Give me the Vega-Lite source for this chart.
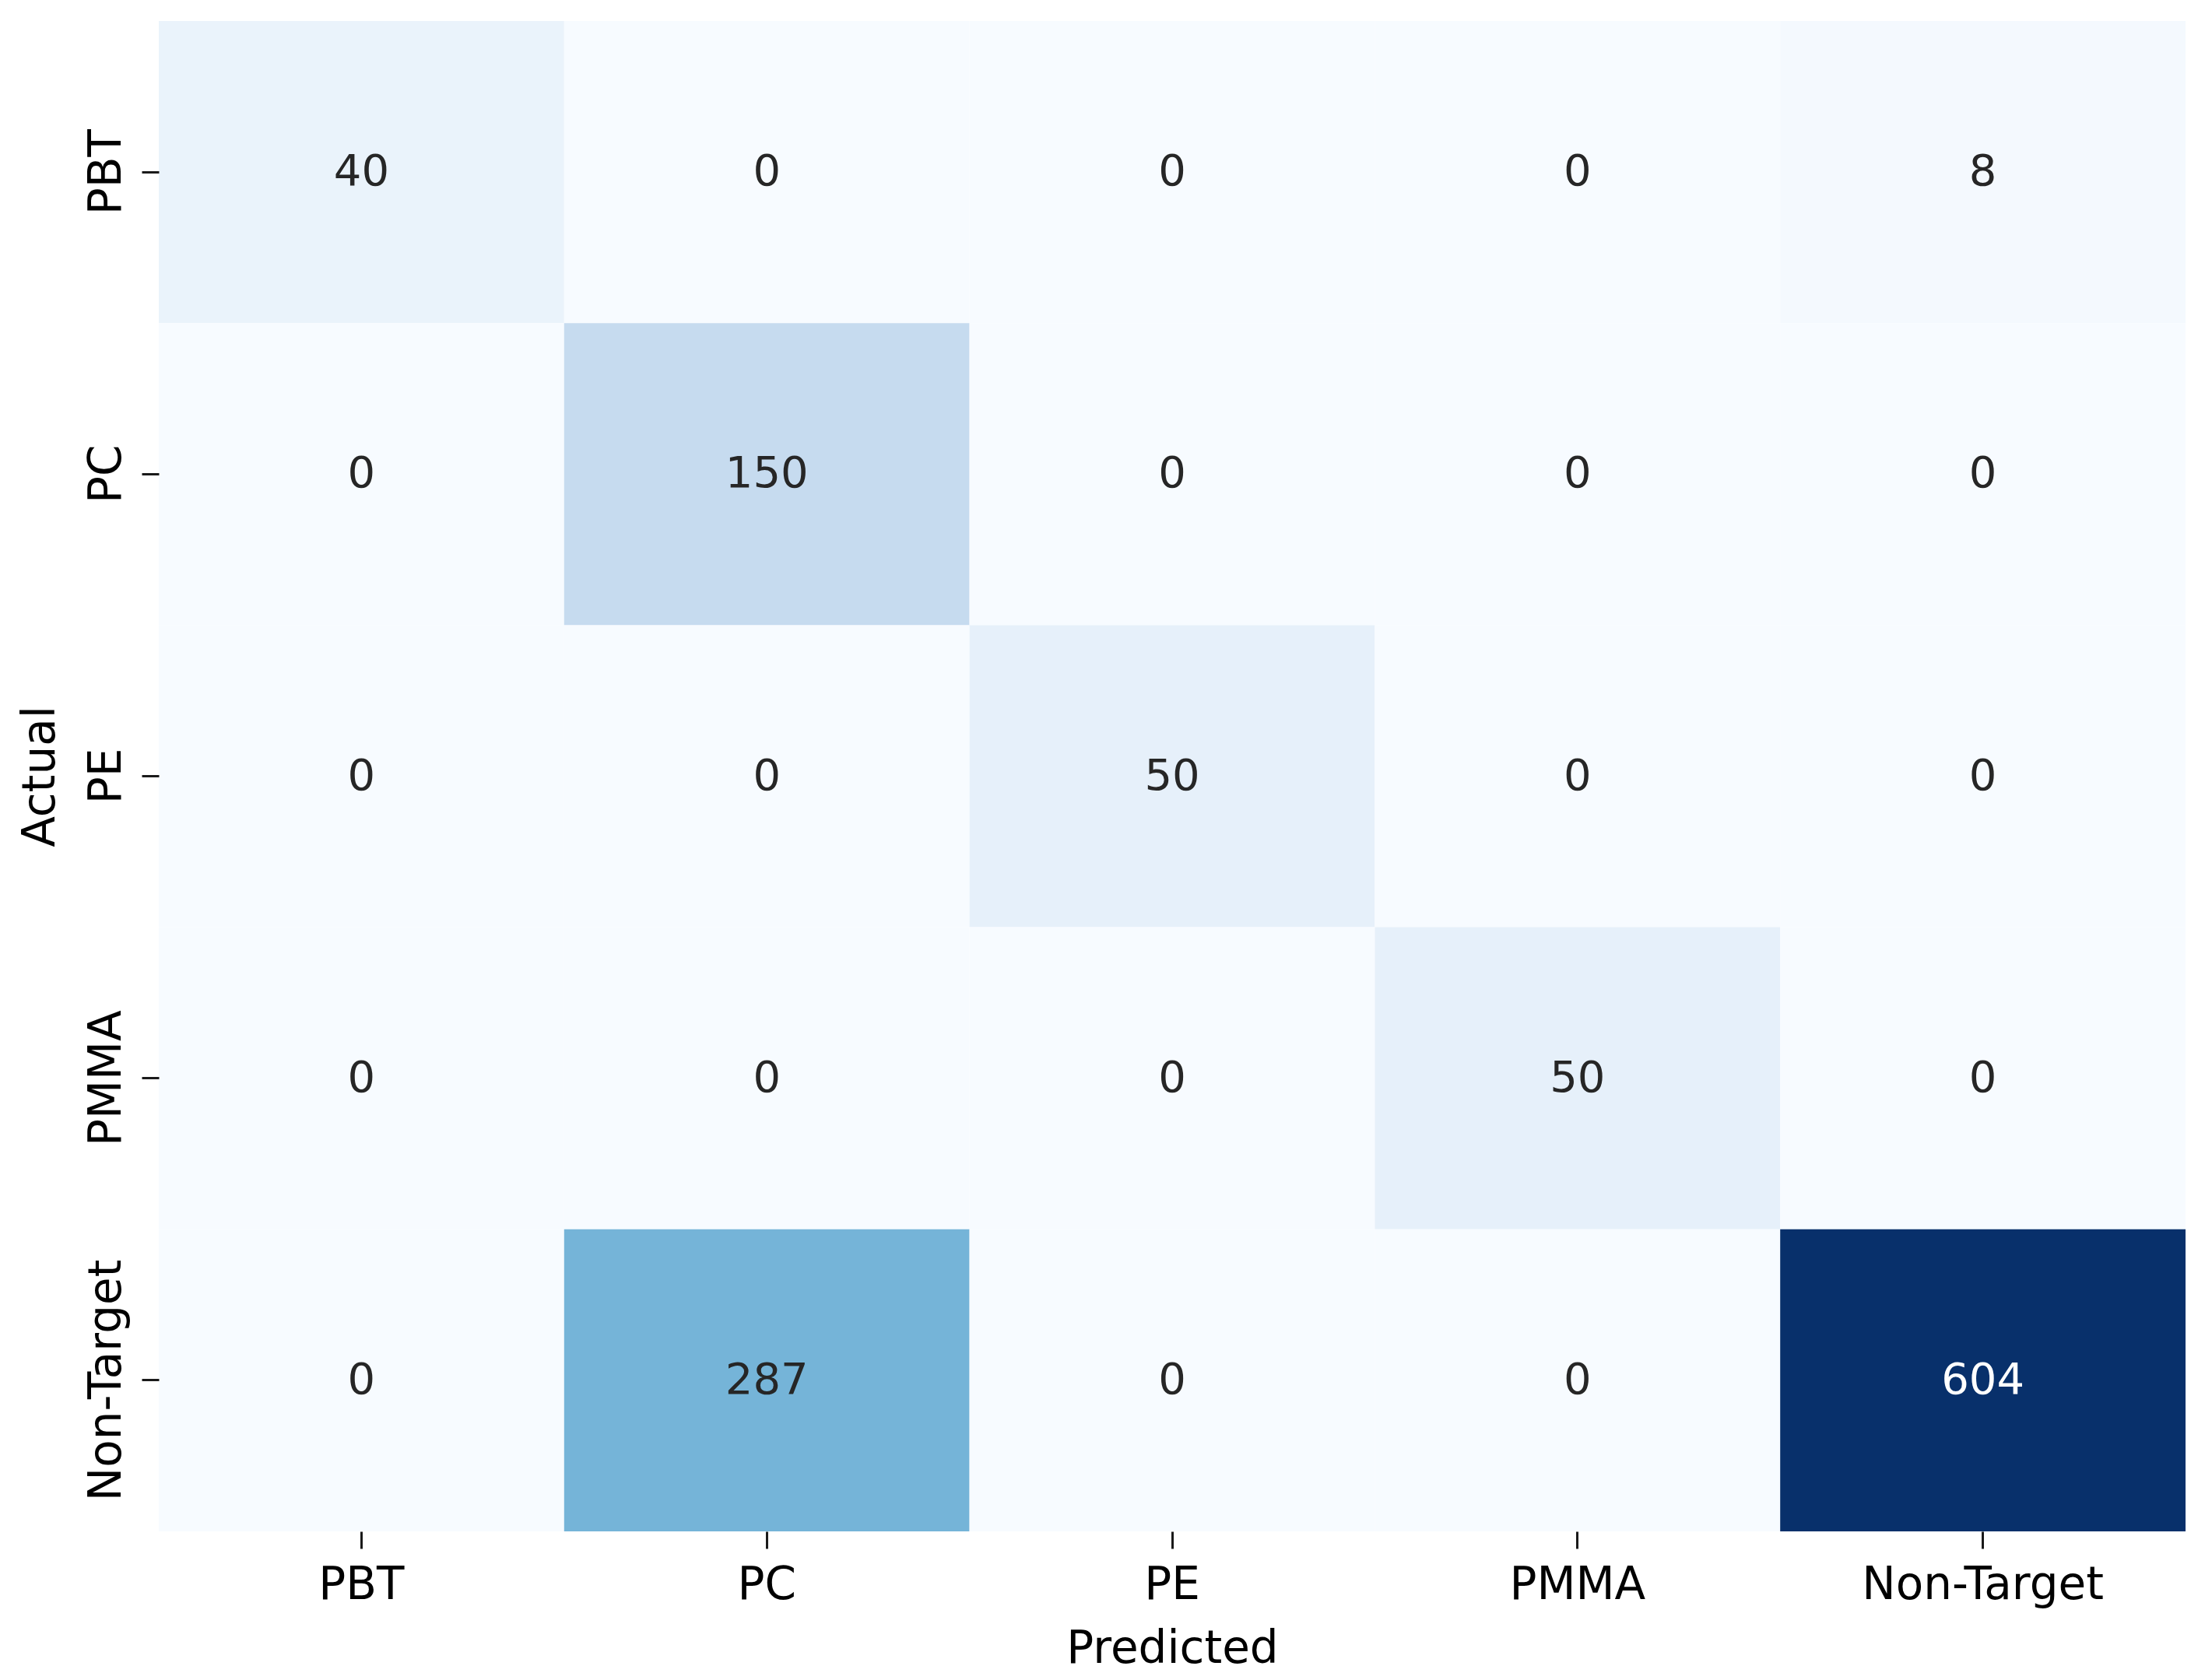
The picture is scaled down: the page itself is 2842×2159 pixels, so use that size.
{
  "$schema": "https://vega.github.io/schema/vega-lite/v6.json",
  "autosize": {"type": "none"},
  "width": 2604,
  "height": 1941,
  "padding": {"left": 204, "top": 27, "right": 20, "bottom": 182},
  "background": "white",
  "config": {"view": {"stroke": null}},
  "data": {
    "values": [
      {"actual": "PBT", "predicted": "PBT", "value": 40},
      {"actual": "PBT", "predicted": "PC", "value": 0},
      {"actual": "PBT", "predicted": "PE", "value": 0},
      {"actual": "PBT", "predicted": "PMMA", "value": 0},
      {"actual": "PBT", "predicted": "Non-Target", "value": 8},
      {"actual": "PC", "predicted": "PBT", "value": 0},
      {"actual": "PC", "predicted": "PC", "value": 150},
      {"actual": "PC", "predicted": "PE", "value": 0},
      {"actual": "PC", "predicted": "PMMA", "value": 0},
      {"actual": "PC", "predicted": "Non-Target", "value": 0},
      {"actual": "PE", "predicted": "PBT", "value": 0},
      {"actual": "PE", "predicted": "PC", "value": 0},
      {"actual": "PE", "predicted": "PE", "value": 50},
      {"actual": "PE", "predicted": "PMMA", "value": 0},
      {"actual": "PE", "predicted": "Non-Target", "value": 0},
      {"actual": "PMMA", "predicted": "PBT", "value": 0},
      {"actual": "PMMA", "predicted": "PC", "value": 0},
      {"actual": "PMMA", "predicted": "PE", "value": 0},
      {"actual": "PMMA", "predicted": "PMMA", "value": 50},
      {"actual": "PMMA", "predicted": "Non-Target", "value": 0},
      {"actual": "Non-Target", "predicted": "PBT", "value": 0},
      {"actual": "Non-Target", "predicted": "PC", "value": 287},
      {"actual": "Non-Target", "predicted": "PE", "value": 0},
      {"actual": "Non-Target", "predicted": "PMMA", "value": 0},
      {"actual": "Non-Target", "predicted": "Non-Target", "value": 604}
    ]
  },
  "encoding": {
    "x": {
      "field": "predicted",
      "type": "nominal",
      "sort": ["PBT", "PC", "PE", "PMMA", "Non-Target"],
      "scale": {"paddingInner": 0, "paddingOuter": 0},
      "axis": {
        "title": "Predicted",
        "titleFont": "DejaVu Sans",
        "titleFontSize": 58,
        "titleFontWeight": "normal",
        "titleColor": "#000000",
        "titlePadding": 24,
        "labelFont": "DejaVu Sans",
        "labelFontSize": 58,
        "labelColor": "#000000",
        "labelAngle": 0,
        "labelPadding": 18,
        "labelLimit": 0,
        "domain": false,
        "ticks": true,
        "tickSize": 22,
        "tickWidth": 3,
        "tickColor": "#1a1a1a",
        "grid": false
      }
    },
    "y": {
      "field": "actual",
      "type": "nominal",
      "sort": ["PBT", "PC", "PE", "PMMA", "Non-Target"],
      "scale": {"paddingInner": 0, "paddingOuter": 0},
      "axis": {
        "title": "Actual",
        "titleFont": "DejaVu Sans",
        "titleFontSize": 58,
        "titleFontWeight": "normal",
        "titleColor": "#000000",
        "titlePadding": 27,
        "labelFont": "DejaVu Sans",
        "labelFontSize": 58,
        "labelColor": "#000000",
        "labelAngle": 270,
        "labelAlign": "center",
        "labelBaseline": "bottom",
        "labelPadding": 16,
        "labelLimit": 0,
        "domain": false,
        "ticks": true,
        "tickSize": 22,
        "tickWidth": 3,
        "tickColor": "#1a1a1a",
        "grid": false
      }
    }
  },
  "layer": [
    {
      "mark": {"type": "rect"},
      "encoding": {
        "color": {
          "field": "value",
          "type": "quantitative",
          "scale": {
            "domain": [0, 75.5, 151, 226.5, 302, 377.5, 453, 528.5, 604],
            "range": ["#f7fbff", "#deebf7", "#c6dbef", "#9ecae1", "#6baed6", "#4292c6", "#2171b5", "#08519c", "#08306b"],
            "interpolate": "rgb"
          },
          "legend": null
        }
      }
    },
    {
      "mark": {"type": "text", "font": "DejaVu Sans", "fontSize": 56, "baseline": "middle", "align": "center"},
      "encoding": {
        "text": {"field": "value", "type": "quantitative"},
        "color": {
          "condition": {"test": "datum.value > 400", "value": "#ffffff"},
          "value": "#262626"
        }
      }
    }
  ]
}
